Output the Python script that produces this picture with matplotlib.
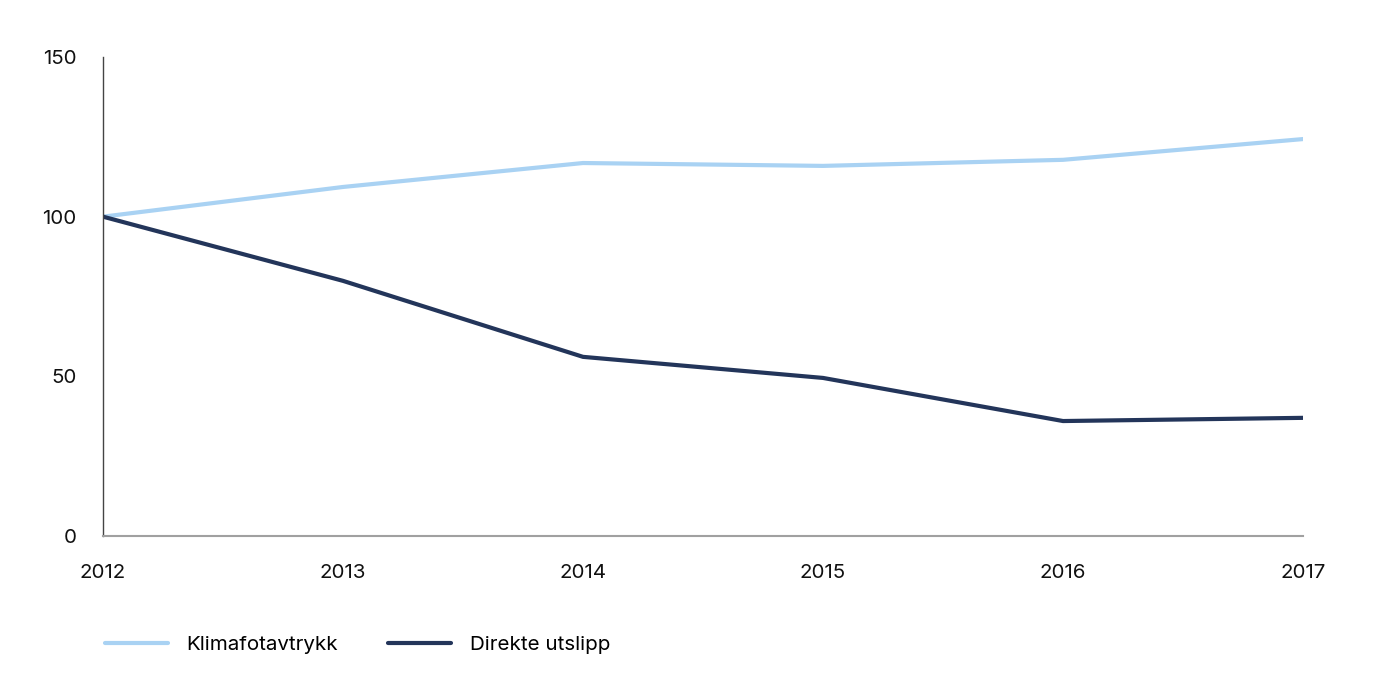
import matplotlib
matplotlib.use('Agg')
import matplotlib.pyplot as plt

# Data (index, 2012 = 100)
years = [2012, 2013, 2014, 2015, 2016, 2017]
klimafotavtrykk = [100, 109.3, 116.8, 115.9, 117.8, 124.3]
direkte_utslipp = [100, 79.9, 56.1, 49.5, 36.0, 37.0]
y_ticks = [0, 50, 100, 150]

light_blue = '#a9d2f3'
dark_blue = '#23355a'

plt.rcParams['font.family'] = ['Inter', 'DejaVu Sans']

fig = plt.figure(figsize=(13.86, 6.9), dpi=100)
ax = fig.add_axes([103 / 1386, 1 - 536 / 690, 1200 / 1386, 479 / 690])

ax.plot(years, klimafotavtrykk, color=light_blue, linewidth=3.0,
        solid_capstyle='round', label='Klimafotavtrykk')
ax.plot(years, direkte_utslipp, color=dark_blue, linewidth=3.0,
        solid_capstyle='round', label='Direkte utslipp')

ax.set_xlim(years[0], years[-1])
ax.set_ylim(0, 150)
ax.set_xticks(years)
ax.set_yticks(y_ticks)
ax.tick_params(axis='both', length=0, labelsize=14.8, colors='#111111')
ax.tick_params(axis='x', pad=20)
ax.tick_params(axis='y', pad=19)

ax.spines['top'].set_visible(False)
ax.spines['right'].set_visible(False)
ax.spines['left'].set_color('#444444')
ax.spines['left'].set_linewidth(1.0)
ax.spines['bottom'].set_color('#a0a0a0')
ax.spines['bottom'].set_linewidth(1.5)

fig.legend(loc='center left', bbox_to_anchor=(86 / 1386, 1 - 645 / 690),
           ncol=2, frameon=False, fontsize=14.8, handlelength=3.1,
           handletextpad=0.9, columnspacing=2.4)

fig.savefig('out.png', dpi=100)
